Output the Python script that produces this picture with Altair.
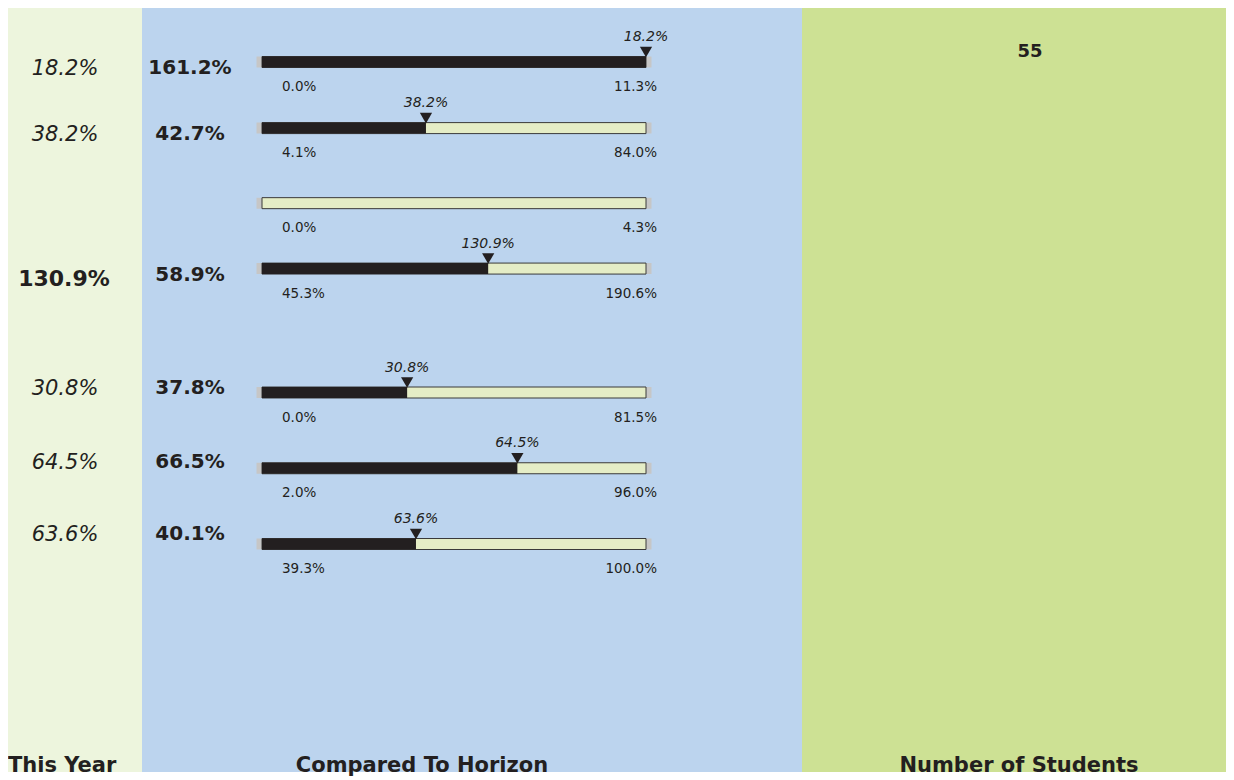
import altair as alt
import pandas as pd

# ---- data ----
this_year = [18.2, 38.2, None, 130.9, 30.8, 64.5, 63.6]
compared = [161.2, 42.7, None, 58.9, 37.8, 66.5, 40.1]
range_min = [0.0, 4.1, 0.0, 45.3, 0.0, 2.0, 39.3]
range_max = [11.3, 84.0, 4.3, 190.6, 81.5, 96.0, 100.0]
n_students = [55]
column_titles = ["This Year", "Compared To Horizon", "Number of Students"]

# ---- layout (row slots, not data) ----
bar_slot = [0, 0.96, 2.05, 3.0, 4.8, 5.9, 7.0]
text_slot = [0.08, 1.04, 2.05, 3.1, 4.73, 5.81, 6.86]

INK = "#231f20"
FONT = "DejaVu Sans"
H = 764
W1, W2, W3 = 134, 660, 424

df = pd.DataFrame({
    "slot": bar_slot,
    "tslot": text_slot,
    "this_year": this_year,
    "compared": compared,
    "rmin": range_min,
    "rmax": range_max,
})

ys = alt.Scale(domain=[0, 7], range=[54, 536], nice=False, zero=False, padding=0)
xs = alt.Scale(domain=[0, 1], range=[120, 504], nice=False, zero=False, padding=0)
Y = alt.Y("slot:Q", scale=ys, axis=None)
YT = alt.Y("tslot:Q", scale=ys, axis=None)

base = alt.Chart(df).transform_calculate(
    lo="0",
    hi="1",
    fillto="isValid(datum.compared) ? min(datum.compared / 100, 1) : 0",
    ty_label="isValid(datum.this_year) ? format(datum.this_year, '.1f') + '%' : ''",
    cmp_label="isValid(datum.compared) ? format(datum.compared, '.1f') + '%' : ''",
    min_label="format(datum.rmin, '.1f') + '%'",
    max_label="format(datum.rmax, '.1f') + '%'",
)


def footer(title, xpos, align="center"):
    return alt.Chart(pd.DataFrame({"t": [title]})).mark_text(
        font=FONT, fontWeight="bold", fontSize=21, color=INK, baseline="middle", align=align
    ).encode(text="t:N", x=alt.value(xpos), y=alt.value(758))


# ---- panel 1: This Year ----
valid = base.transform_filter("isValid(datum.this_year)")
p1_italic = valid.transform_filter("datum.this_year <= 100").mark_text(
    font=FONT, fontStyle="italic", fontSize=21, color=INK, baseline="middle", align="center", dy=1
).encode(x=alt.value(57), y=YT, text="ty_label:N")
p1_bold = valid.transform_filter("datum.this_year > 100").mark_text(
    font=FONT, fontWeight="bold", fontSize=22, color=INK, baseline="middle", align="center", dy=4
).encode(x=alt.value(56), y=YT, text="ty_label:N")
panel1 = alt.layer(p1_italic, p1_bold, footer(column_titles[0], 0, "left")).properties(
    width=W1, height=H, view=alt.ViewBackground(fill="#edf5dd", stroke=None)
)

# ---- panel 2: Compared To Horizon ----
stub = base.mark_rule(strokeWidth=11, strokeCap="square", color="#c6c6c6").encode(
    x=alt.X("lo:Q", scale=xs, axis=None), x2="hi:Q", y=Y
)
light = base.mark_bar(size=11, fill="#e5edc6", stroke="#3a3a3a", strokeWidth=1, orient="horizontal").encode(
    x=alt.X("lo:Q", scale=xs, axis=None), x2="hi:Q", y=Y
)
dark = base.transform_filter("datum.fillto > 0").mark_bar(size=11, color=INK, orient="horizontal").encode(
    x=alt.X("lo:Q", scale=xs, axis=None), x2="fillto:Q", y=Y
)
has_marker = base.transform_filter("isValid(datum.compared)")
tri = has_marker.mark_point(shape="triangle-down", filled=True, size=150, color=INK, opacity=1, yOffset=-10).encode(
    x=alt.X("fillto:Q", scale=xs, axis=None), y=Y
)
tri_label = has_marker.mark_text(
    font=FONT, fontStyle="italic", fontSize=14, color=INK, baseline="middle", align="center", dy=-25
).encode(x=alt.X("fillto:Q", scale=xs, axis=None), y=Y, text="ty_label:N")
min_lab = base.mark_text(
    font=FONT, fontSize=13.5, color=INK, baseline="middle", align="left", dx=20, dy=25
).encode(x=alt.X("lo:Q", scale=xs, axis=None), y=Y, text="min_label:N")
max_lab = base.mark_text(
    font=FONT, fontSize=13.5, color=INK, baseline="middle", align="right", dx=11, dy=25
).encode(x=alt.X("hi:Q", scale=xs, axis=None), y=Y, text="max_label:N")
cmp_text = has_marker.mark_text(
    font=FONT, fontWeight="bold", fontSize=20, color=INK, baseline="middle", align="center", dy=0
).encode(x=alt.value(48), y=YT, text="cmp_label:N")

panel2 = alt.layer(
    stub, light, dark, tri, tri_label, min_lab, max_lab, cmp_text, footer(column_titles[1], 280)
).properties(width=W2, height=H, view=alt.ViewBackground(fill="#bcd4ee", stroke=None))

# ---- panel 3: Number of Students ----
n_df = pd.DataFrame({"n": n_students})
n_text = alt.Chart(n_df).mark_text(
    font=FONT, fontWeight="bold", fontSize=18, color=INK, baseline="middle", align="center"
).encode(x=alt.value(228), y=alt.value(44), text="n:Q")
panel3 = alt.layer(n_text, footer(column_titles[2], 217)).properties(
    width=W3, height=H, view=alt.ViewBackground(fill="#cde194", stroke=None)
)

chart = alt.hconcat(panel1, panel2, panel3, spacing=0, padding=0, bounds="flush").configure_view(
    strokeWidth=0
)

chart.save("out.html", embed_options={"renderer": "svg", "actions": False})
